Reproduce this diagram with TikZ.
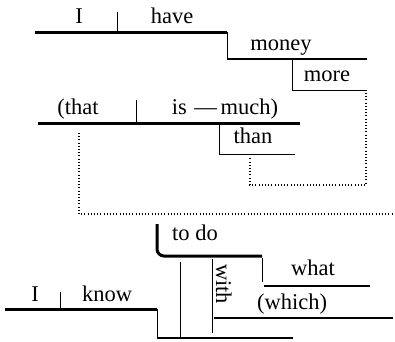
\documentclass[tikz,border=0pt]{standalone}
\usepackage{fontspec}
\setmainfont{Liberation Serif}
\usepackage{tikz}
\begin{document}
\begin{tikzpicture}[x=1pt,y=-1pt,
  word/.style={anchor=base,inner sep=0pt,font=\fontsize{22.5}{24}\selectfont},
  heavy/.style={line width=3pt},
  medium/.style={line width=1.8pt},
  light/.style={line width=0.9pt},
  dotline/.style={line width=1.1pt,dash pattern=on 1pt off 2.2pt}]
\useasboundingbox (0,0) rectangle (395,341);
% main clause
\draw[heavy] (35,32) -- (227,32);
\draw[light] (117,12) -- (117,32);
\node[word] (i1) at (79,23) {I};
\node[word] (have) at (172,23) {have};
\draw[light] (227,32) -- (227,59);
\draw[medium] (227,59) -- (367,59);
\node[word] (money) at (281,50) {money};
\draw[light] (292,59) -- (292,90) -- (367,90);
\node[word] (more) at (327,81) {more};
% that clause
\draw[heavy] (38,123) -- (300,123);
\draw[light] (136,100) -- (136,123);
\node[word] (that) at (78,114) {(that};
\node[word] (much) at (225,114) {is\,\,---\,much)};
\draw[light] (219,123) -- (219,154) -- (295,154);
\node[word] (than) at (253,143) {than};
% dotted connectors
\draw[dotline] (366,93) -- (366,185) -- (250,185) -- (250,158);
\draw[dotline] (79,133) -- (79,214) -- (395,214);
% lower clause
\draw[heavy] (5,309) -- (157,309);
\draw[light] (60,292) -- (60,309);
\node[word] (i2) at (35,301) {I};
\node[word] (know) at (107,301) {know};
\draw[light] (157,309) -- (157,338);
\draw[medium] (157,338) -- (293,338);
\draw[heavy,rounded corners=7pt] (157,224) -- (157,256) -- (262,256);
\node[word] (todo) at (195,240) {to do};
\draw[light] (180,262) -- (180,338);
\draw[light] (212,259) -- (212,333);
\node[word,anchor=base west,rotate=-90] (with) at (216,264) {with};
\draw[light] (262,258) -- (262,282);
\draw[medium] (264,286) -- (370,286);
\node[word] (what) at (313,275) {what};
\draw[medium] (214,318) -- (393,318);
\node[word] (which) at (292,309) {(which)};
\end{tikzpicture}
\end{document}
